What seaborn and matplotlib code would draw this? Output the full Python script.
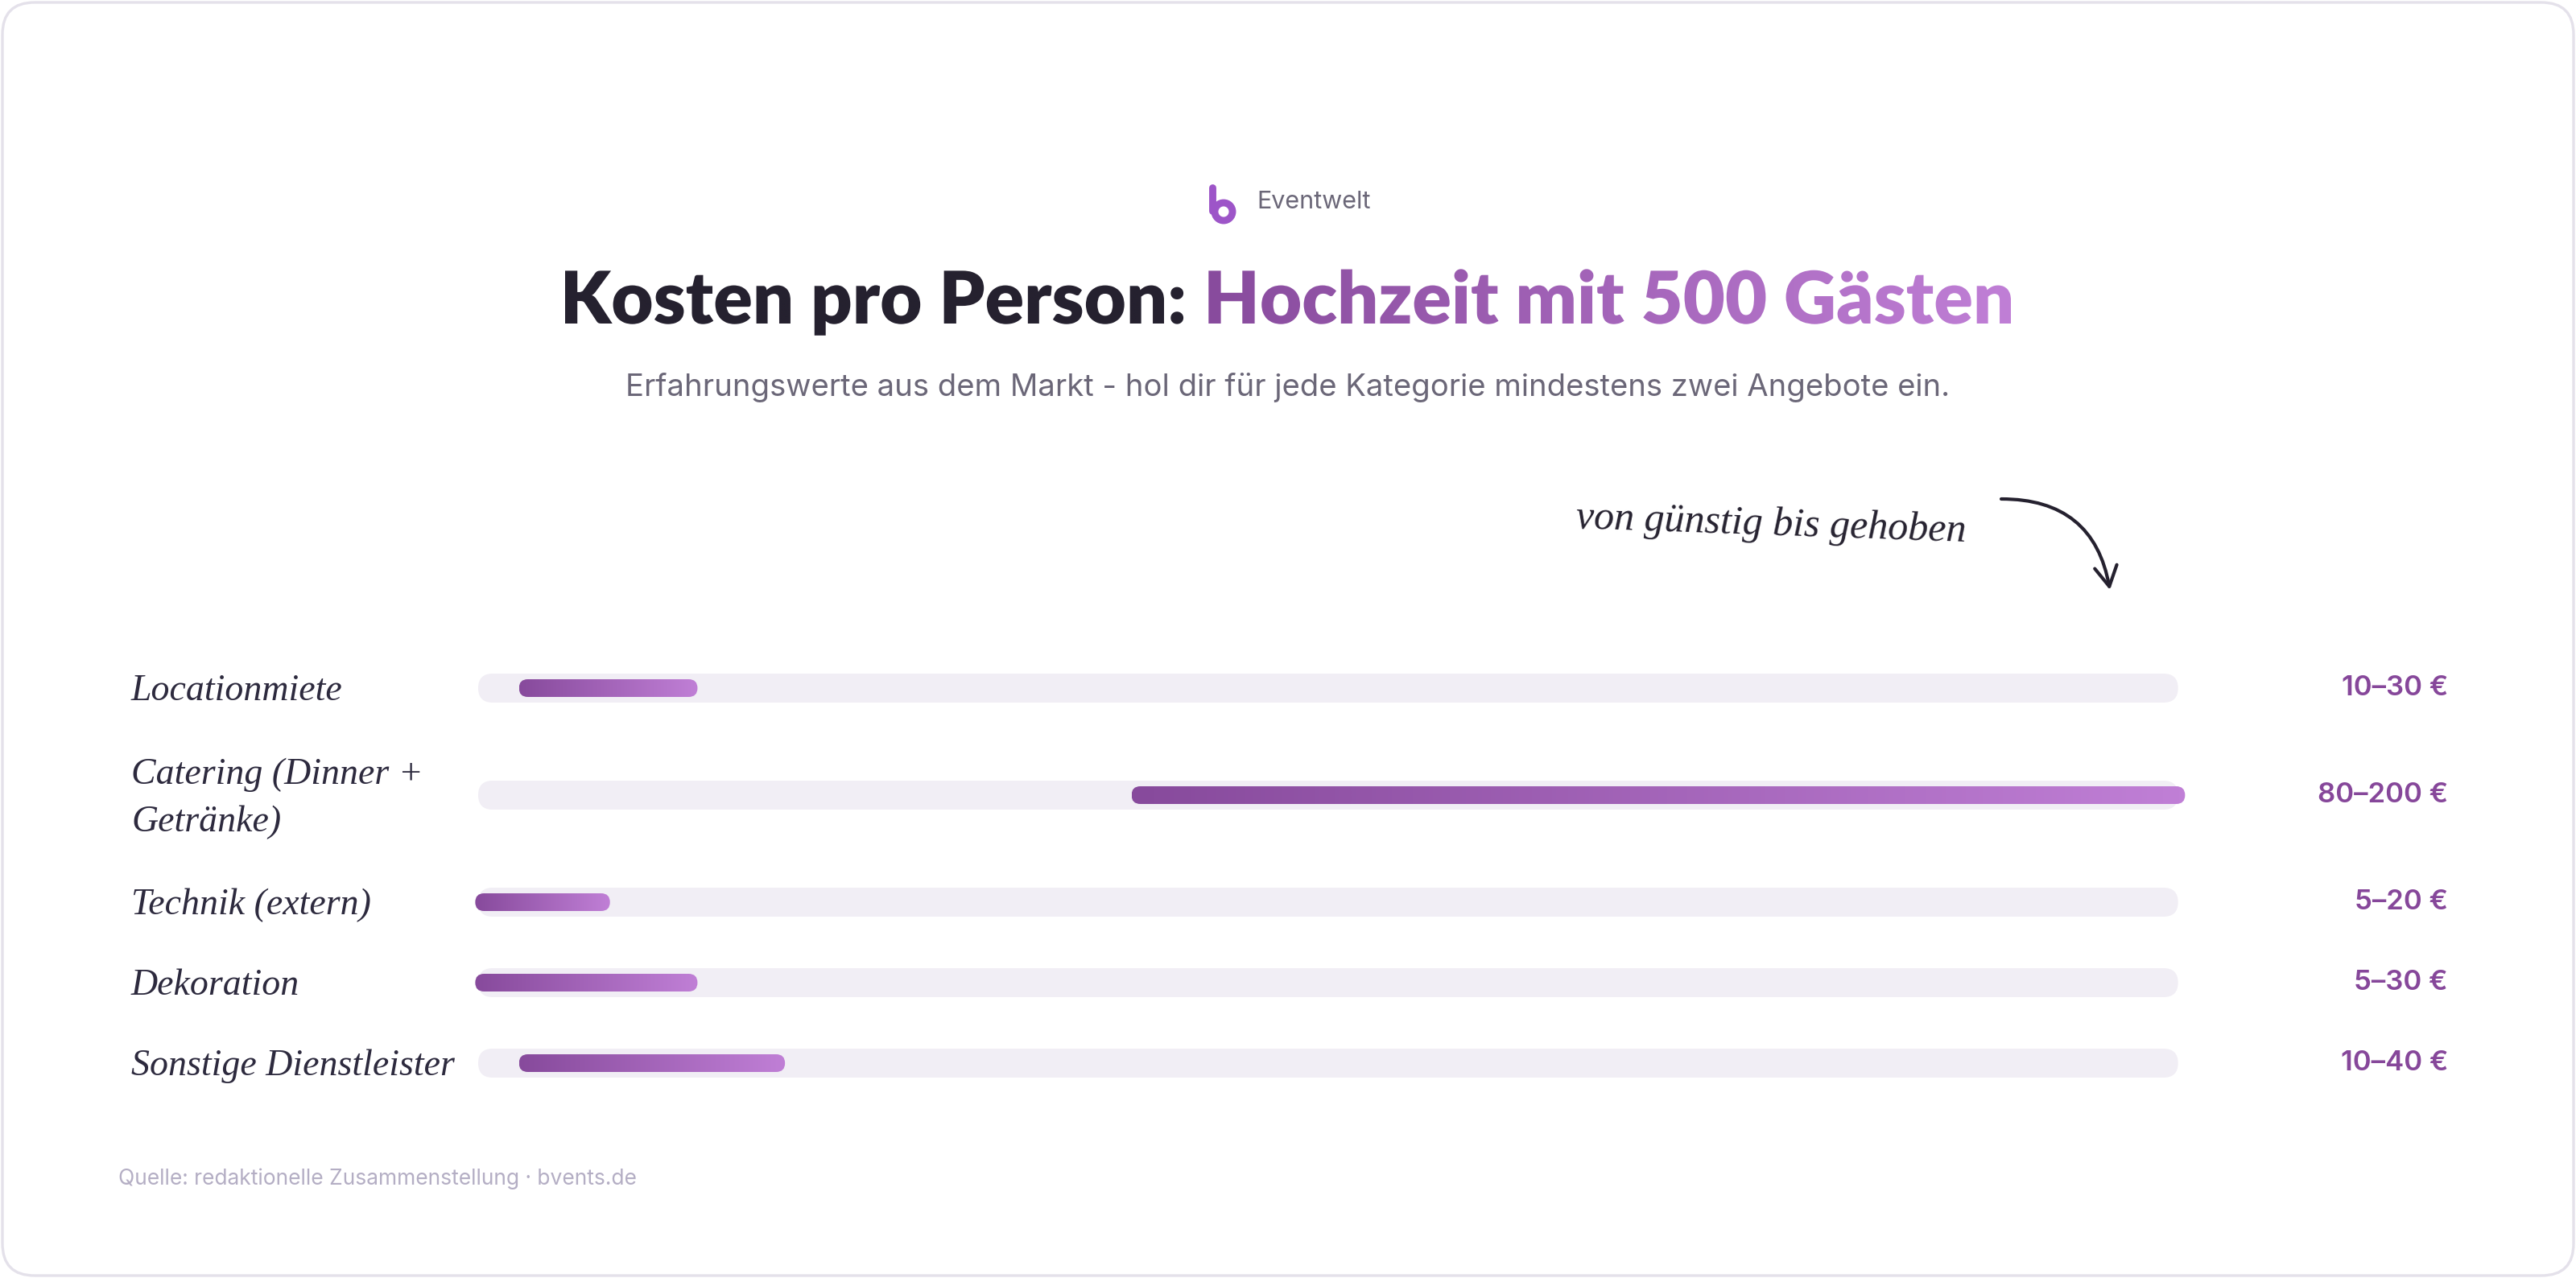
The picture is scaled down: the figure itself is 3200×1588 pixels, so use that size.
import numpy as np
import pandas as pd
import matplotlib
matplotlib.use("Agg")
import matplotlib.pyplot as plt
import seaborn as sns
from matplotlib.patches import FancyBboxPatch, PathPatch, FancyArrowPatch, Circle
from matplotlib.textpath import TextPath
from matplotlib.font_manager import FontProperties
from matplotlib.colors import LinearSegmentedColormap, to_rgb
from matplotlib.transforms import Affine2D

# --- data ---
categories = ["Locationmiete", "Catering (Dinner +\nGetränke)", "Technik (extern)",
              "Dekoration", "Sonstige Dienstleister"]
low = [10, 80, 5, 5, 10]
high = [30, 200, 20, 30, 40]
value_labels = ["10–30 €", "80–200 €", "5–20 €", "5–30 €", "10–40 €"]
scale_max = 200

title_dark = "Kosten pro Person: "
title_accent = "Hochzeit mit 500 Gästen"
subtitle = "Erfahrungswerte aus dem Markt - hol dir für jede Kategorie mindestens zwei Angebote ein."
note = "von günstig bis gehoben"
brand = "Eventwelt"
source = "Quelle: redaktionelle Zusammenstellung · bvents.de"

# --- style ---
W, H, DPI = 3200, 1588, 200
DARK = "#25212f"
GREY = "#6b6778"
PURPLE_L = "#874a9c"
PURPLE_R = "#c07fd6"
TRACK = "#f1eef5"
VALUE = "#86479a"
HAND = "Liberation Serif"

sns.set_theme(style="white")
plt.rcParams["font.family"] = ["Inter", "DejaVu Sans"]

fig = plt.figure(figsize=(W / DPI, H / DPI), dpi=DPI)

# background axes in pixel units
bg = fig.add_axes([0, 0, 1, 1], zorder=0)
bg.set_xlim(0, W)
bg.set_ylim(H, 0)
bg.axis("off")
bg.add_patch(FancyBboxPatch((3, 3), W - 6, H - 6, boxstyle="round,pad=0,rounding_size=40",
                            facecolor="white", edgecolor="#e4e1ea", lw=1.2))

# --- chart axes: x in value units, y in pixels ---
X0_PX, X1_PX = 536, 2710
Y_TOP, Y_BOT = 800, 1380
px_per_x = (X1_PX - X0_PX) / scale_max
x_room = 5  # a bit of room past the scale end for the round caps

lines = [c.count("\n") + 1 for c in categories]
ypos = [855]
for i in range(1, len(categories)):
    ypos.append(ypos[-1] + 100 + 33 * ((lines[i - 1] - 1) + (lines[i] - 1)))

ax = fig.add_axes([X0_PX / W, (H - Y_BOT) / H, (X1_PX - X0_PX + x_room * px_per_x) / W,
                   (Y_BOT - Y_TOP) / H], zorder=1)
ax.patch.set_alpha(0)

df = pd.DataFrame({"category": categories, "low": low, "high": high,
                   "track": [scale_max] * len(categories), "ypos": ypos})

sns.barplot(data=df, x="track", y="ypos", orient="y", native_scale=True,
            width=0.36, color=TRACK, errorbar=None, ax=ax)

# swap seaborn's square bars for pill-shaped tracks
track_start = (594 - X0_PX) / px_per_x
for p in list(ax.patches):
    y0, h = p.get_y(), p.get_height()
    p.remove()
    ax.add_patch(FancyBboxPatch((track_start, y0), scale_max - track_start - 0.4, h,
                                boxstyle=f"round,pad=0,rounding_size={h / 2 / px_per_x}",
                                mutation_aspect=px_per_x, facecolor=TRACK, edgecolor="none",
                                zorder=1))

grad = LinearSegmentedColormap.from_list("grad", [PURPLE_L, PURPLE_R])
bar_h = 22
for _, r in df.iterrows():
    x0, x1 = r["low"], r["high"] + 0.4
    clip = FancyBboxPatch((x0, r["ypos"] - bar_h / 2), x1 - x0, bar_h,
                          boxstyle=f"round,pad=0,rounding_size={bar_h / 2 / px_per_x}",
                          mutation_aspect=px_per_x, facecolor="none", edgecolor="none")
    ax.add_patch(clip)
    im = ax.imshow(np.linspace(0, 1, 256).reshape(1, -1), cmap=grad, aspect="auto",
                   extent=(x0, x1, r["ypos"] + bar_h / 2, r["ypos"] - bar_h / 2),
                   interpolation="bilinear", zorder=2)
    im.set_clip_path(clip)

ax.set_xlim(0, scale_max + x_room)
ax.set_ylim(Y_BOT, Y_TOP)
ax.axis("off")

# row labels and values
for c, y, v in zip(categories, ypos, value_labels):
    bg.text(163, y + 4, c, ha="left", va="center", fontsize=16.5, color="#2d2a3e",
            family=HAND, style="italic", linespacing=1.5)
    bg.text(3041, y, v, ha="right", va="center", fontsize=12.5, color=VALUE,
            fontweight="semibold")

# --- title with gradient accent ---
fp = FontProperties(family="Lato", weight="heavy")
tp = TextPath((0, 0), title_dark + title_accent, size=100, prop=fp)
ext = tp.get_extents()
scale = 1796 / ext.width
tx0, base = 702, 402
tr = Affine2D().translate(-ext.x0, 0).scale(scale, -scale).translate(tx0, base) + bg.transData
title_patch = PathPatch(tp, transform=tr, facecolor="none", edgecolor="none")
bg.add_patch(title_patch)
split = tx0 + (TextPath((0, 0), title_dark.rstrip(), size=100, prop=fp).get_extents().x1
               - ext.x0) * scale + 10
xs = np.linspace(tx0, tx0 + 1796, 900)
t = np.clip((xs - split) / (tx0 + 1796 - split), 0, 1)
cols = np.array([np.array(to_rgb(PURPLE_L)) * (1 - k) + np.array(to_rgb(PURPLE_R)) * k for k in t])
cols[xs < split] = to_rgb(DARK)
tim = bg.imshow(cols.reshape(1, -1, 3), aspect="auto", extent=(tx0, tx0 + 1796, base + 40, base - 110),
                interpolation="bilinear", zorder=3)
tim.set_clip_path(title_patch)
bg.set_xlim(0, W)
bg.set_ylim(H, 0)

bg.text(W / 2, 482, subtitle, ha="center", va="center", fontsize=13.75, color=GREY)

# logo + brand
logo = "#9d55c8"
bg.plot([1506, 1506], [233, 262], color=logo, lw=3.2, solid_capstyle="round")
bg.add_patch(Circle((1520, 263), 11, facecolor="none", edgecolor=logo, lw=3.2))
bg.text(1561, 251, brand, ha="left", va="center", fontsize=11, color=GREY)

# annotation
bg.text(2200, 652, note, ha="center", va="center", fontsize=18, color=DARK,
        family=HAND, style="italic", rotation=-2, rotation_mode="anchor")
bg.add_patch(FancyArrowPatch((2486, 620), (2621, 733), connectionstyle="arc3,rad=-0.42",
                             arrowstyle="->,head_length=9,head_width=5", color=DARK,
                             lw=1.5, shrinkA=0, shrinkB=0))

bg.text(147, 1465, source, ha="left", va="center", fontsize=9.5, color="#b4aec4")

fig.savefig("out.png", dpi=DPI)
